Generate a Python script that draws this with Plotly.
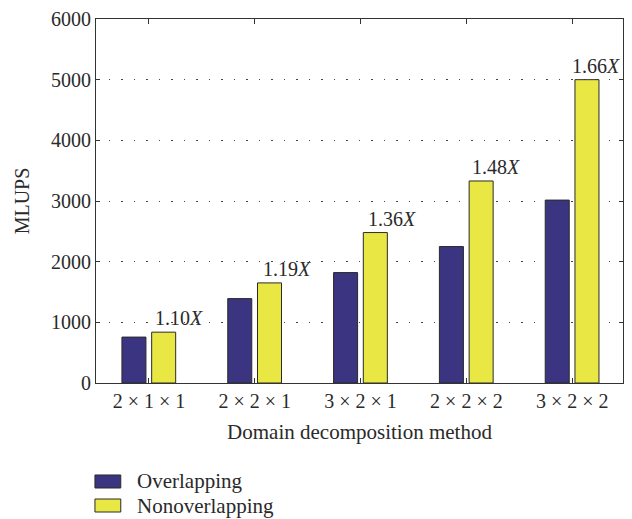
import plotly.graph_objects as go

categories = ["2 × 1 × 1", "2 × 2 × 1", "3 × 2 × 1", "2 × 2 × 2", "3 × 2 × 2"]
overlapping = [757, 1391, 1820, 2249, 3015]
nonoverlapping = [838, 1650, 2480, 3330, 5000]
speedups = ["1.10", "1.19", "1.36", "1.48", "1.66"]
y_ticks = [0, 1000, 2000, 3000, 4000, 5000, 6000]
series_names = ["Overlapping", "Nonoverlapping"]
series_colors = ["#3b3480", "#e9e744"]

FONT = "Liberation Serif"
TXT = "#2a2a2a"
EDGE = "#2a2a2a"
xpos = list(range(len(categories)))
BW = 0.227
OFFS = [-0.255, 0.026]
label_xshift = [3, 5, 5, 3, -3]

fig = go.Figure()
for vals, name, col, off in zip([overlapping, nonoverlapping], series_names, series_colors, OFFS):
    fig.add_trace(go.Bar(
        x=xpos, y=vals, name=name, width=BW, offset=off,
        marker=dict(color=col, line=dict(color=EDGE, width=1)),
        showlegend=False,
    ))

for i, (v, s) in enumerate(zip(nonoverlapping, speedups)):
    fig.add_annotation(
        x=xpos[i] + OFFS[1] + BW, y=v, text=f"{s}<i>X</i>",
        xanchor="center", yanchor="bottom", yshift=1, xshift=label_xshift[i],
        showarrow=False, font=dict(family=FONT, size=20, color=TXT),
    )

# legend drawn below the plot (paper coordinates)
leg_rows = [(-0.2527, -0.2885, -0.269), (-0.3187, -0.3544, -0.338)]
for (y0, y1, yt), name, col in zip(leg_rows, series_names, series_colors):
    fig.add_shape(type="rect", xref="paper", yref="paper",
                  x0=-0.002, x1=0.047, y0=y1, y1=y0,
                  fillcolor=col, line=dict(color=EDGE, width=1))
    fig.add_annotation(xref="paper", yref="paper", x=0.074, y=yt,
                       text=name, xanchor="left", yanchor="middle",
                       showarrow=False, font=dict(family=FONT, size=21, color=TXT))

fig.update_layout(
    width=632, height=519,
    margin=dict(l=96, r=9, t=19, b=136),
    paper_bgcolor="white", plot_bgcolor="white",
    barmode="group",
    font=dict(family=FONT, size=20, color=TXT),
    showlegend=False,
    xaxis=dict(
        tickmode="array", tickvals=xpos, ticktext=categories,
        range=[-0.5, 4.48], automargin=False,
        showline=True, linecolor="#333333", linewidth=1, mirror="ticks",
        ticks="inside", ticklen=5, tickcolor="#333333",
        showgrid=False, zeroline=False,
        tickfont=dict(family=FONT, size=20, color=TXT),
        title=dict(text="Domain decomposition method", standoff=13,
                   font=dict(family=FONT, size=21, color=TXT)),
    ),
    yaxis=dict(
        range=[0, 6000], tickvals=y_ticks, automargin=False,
        showline=True, linecolor="#333333", linewidth=1, mirror="ticks",
        ticks="inside", ticklen=4, tickcolor="#333333",
        showgrid=True, gridcolor="#444444", gridwidth=1, griddash="1.5px,11px",
        zeroline=False,
        tickfont=dict(family=FONT, size=20, color=TXT),
        title=dict(text="MLUPS", standoff=16,
                   font=dict(family=FONT, size=20, color=TXT)),
    ),
)

fig.write_html("out.html", config={"displayModeBar": False},
               post_script="document.body.style.margin='0';")
